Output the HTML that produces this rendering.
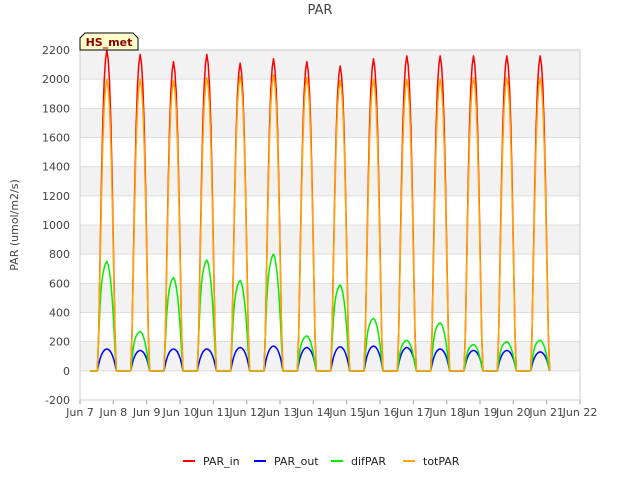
<!DOCTYPE html>
<html><head><meta charset="utf-8"><style>
body{margin:0;background:#fff;font-family:"Liberation Sans","DejaVu Sans",sans-serif}
svg text{font-family:"DejaVu Sans","Liberation Sans",sans-serif}
</style></head><body>
<svg id="c" width="640" height="480" xmlns="http://www.w3.org/2000/svg"></svg>
<script>
const dayLabels=["Jun 7","Jun 8","Jun 9","Jun 10","Jun 11","Jun 12","Jun 13","Jun 14","Jun 15","Jun 16","Jun 17","Jun 18","Jun 19","Jun 20","Jun 21","Jun 22"];
const yTicks=[-200,0,200,400,600,800,1000,1200,1400,1600,1800,2000,2200];
const peakIn=[2200,2170,2120,2170,2110,2140,2120,2090,2140,2160,2160,2160,2160,2160];
const peakTot=[2000,2000,1990,2010,2020,2030,2010,1990,2000,2000,2000,2010,2010,2010];
const peakOut=[150,140,150,150,160,170,160,165,170,160,150,140,140,130];
const peakDif=[750,270,640,760,620,800,240,590,360,210,330,180,200,210];
const shapeSun=[0,0.12,0.35,0.58,0.77,0.9,0.97,1,0.97,0.9,0.77,0.58,0.35,0.12,0];
const shapeOut=[0,0.3,0.55,0.72,0.85,0.93,0.98,1,0.98,0.93,0.85,0.72,0.55,0.3,0];
const shapeDif=[0,0.3,0.6,0.78,0.88,0.94,0.98,1,0.97,0.9,0.8,0.65,0.45,0.2,0];
const svg=document.getElementById('c');const NS='http://www.w3.org/2000/svg';
const L=80,R=580,T=50,B=400;
const xs=d=>L+(d/15)*(R-L);const ys=v=>B-(v+200)/2400*(B-T);
function mk(t,a,p){const e=document.createElementNS(NS,t);for(const k in a)e.setAttribute(k,a[k]);(p||svg).appendChild(e);return e;}
mk('rect',{x:L,y:T,width:R-L,height:B-T,fill:'#fff',stroke:'#ccc'});
for(let i=1;i<yTicks.length-1;i+=2){mk('rect',{x:L,y:ys(yTicks[i+1]),width:R-L,height:ys(yTicks[i])-ys(yTicks[i+1]),fill:'#f2f2f2'});}
for(let i=0;i<yTicks.length;i++){const v=yTicks[i];
const g=mk('line',{x1:L,x2:R,y1:ys(v),y2:ys(v),stroke:'#ddd'});
const t=mk('text',{x:L-10,y:ys(v)+4,'text-anchor':'end','font-size':11,fill:'#444'});t.textContent=v;}
for(let i=0;i<dayLabels.length;i++){const t=mk('text',{x:xs(i),y:416,'text-anchor':'middle','font-size':11,fill:'#444'});t.textContent=dayLabels[i];
mk('line',{x1:xs(i),x2:xs(i),y1:B,y2:B+4,stroke:'#999'});}
mk('rect',{x:L,y:T,width:R-L,height:B-T,fill:'none',stroke:'#ccc'});
function series(peaks,shape,color,name){let pts=[[xs(0.3),ys(0)]];
for(let d=0;d<peaks.length;d++){for(let h=0;h<shape.length;h++){const day=d+0.52+h*0.57/(shape.length-1);pts.push([xs(day),ys(peaks[d]*shape[h])]);}
pts.push([xs(d+1.5),ys(0)]);}
pts.pop();
const p=mk('polyline',{points:pts.map(p=>p.join(',')).join(' '),fill:'none',stroke:color,'stroke-width':1.5,'stroke-linejoin':'round'});}
series(peakIn,shapeSun,'#ff0000','par-in');
series(peakOut,shapeOut,'#0000ff','par-out');
series(peakDif,shapeDif,'#00ee00','dif-par');
series(peakTot,shapeSun,'#ffa500','tot-par');
let t=mk('text',{x:320,y:14,'text-anchor':'middle','font-size':13,fill:'#444'});t.textContent='PAR';
t=mk('text',{x:18,y:225,'text-anchor':'middle','font-size':11,fill:'#444',transform:'rotate(-90 18 225)'});t.textContent='PAR (umol/m2/s)';
const bx=mk('path',{d:'M80,50 L80,38 L85,33 L133,33 L138,38 L138,50 Z',fill:'#ffffcc',stroke:'#000'});
t=mk('text',{x:109,y:46,'text-anchor':'middle','font-size':11,'font-weight':'bold',fill:'#8b0000'});t.textContent='HS_met';
const leg=[['PAR_in','#ff0000',183],['PAR_out','#0000ff',254],['difPAR','#00ee00',331],['totPAR','#ffa500',403]];
for(const [n,c,x] of leg){const g=mk('g',{});
mk('line',{x1:x,x2:x+12,y1:461,y2:461,stroke:c,'stroke-width':2},g);
const tt=mk('text',{x:x+20,y:465,'font-size':11,fill:'#222'},g);tt.textContent=n;}
</script>
</body></html>
